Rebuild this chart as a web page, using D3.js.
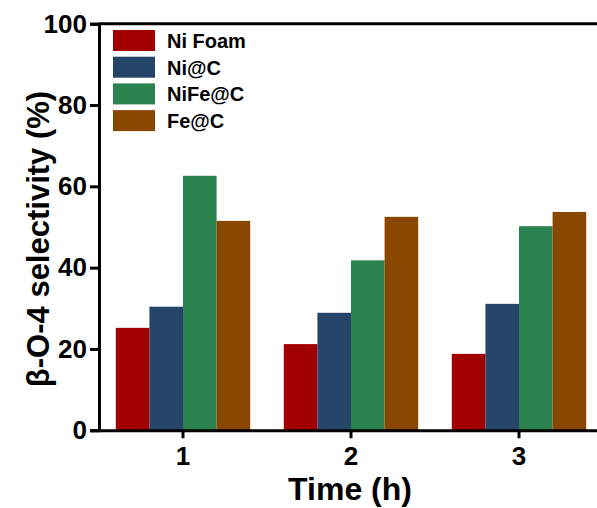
<!DOCTYPE html>
<html>
<head>
<meta charset="utf-8">
<script src="https://cdnjs.cloudflare.com/ajax/libs/d3/7.8.5/d3.min.js"></script>
<style>
  body { margin: 0; background: white; }
  text { font-family: Arial, "Liberation Sans", sans-serif; font-weight: bold; }
</style>
</head>
<body>
<div id="canvas"></div>
<script>
var w = 597;
var h = 508;

// data
var times = ["1", "2", "3"];
var seriesNames = ["Ni Foam", "Ni@C", "NiFe@C", "Fe@C"];
var niFoam = [25.2, 21.2, 18.8];
var niC = [30.4, 28.9, 31.1];
var nifeC = [62.6, 41.8, 50.2];
var feC = [51.5, 52.5, 53.7];
var yTicks = [0, 20, 40, 60, 80, 100];
var colors = ["#a20000", "#244567", "#2b834f", "#8a4700"];

var values = [niFoam, niC, nifeC, feC];

var plotLeft = 99, plotRight = 603, plotTop = 23.7, plotBottom = 430.3;

var svg = d3.select("#canvas").append("svg")
  .attr("width", w)
  .attr("height", h)
  .style("background-color", "white");

var xScale = d3.scaleBand()
  .domain(times)
  .range([plotLeft, plotRight])
  .paddingInner(0.2)
  .paddingOuter(0.1);

var xInner = d3.scaleBand()
  .domain(d3.range(seriesNames.length))
  .range([0, xScale.bandwidth()]);

var yScale = d3.scaleLinear()
  .domain([0, 100])
  .range([plotBottom, plotTop]);

// bars
var groups = svg.selectAll("g.group")
  .data(times)
  .join("g")
  .attr("class", "group")
  .attr("transform", function(d) {
    return "translate(" + xScale(d) + ",0)";
  });

groups.selectAll("rect")
  .data(function(d, i) {
    return values.map(function(s, j) { return {s: j, v: s[i]}; });
  })
  .join("rect")
  .attr("x", function(d) { return xInner(d.s); })
  .attr("y", function(d) { return yScale(d.v); })
  .attr("width", xInner.bandwidth())
  .attr("height", function(d) { return yScale(0) - yScale(d.v); })
  .attr("fill", function(d) { return colors[d.s]; });

// top frame line
svg.append("line")
  .attr("x1", plotLeft)
  .attr("x2", plotRight)
  .attr("y1", plotTop)
  .attr("y2", plotTop)
  .attr("stroke", "black")
  .attr("stroke-width", 3);

// y axis
var yAxis = svg.append("g")
  .attr("transform", "translate(" + plotLeft + ",0)")
  .call(d3.axisLeft(yScale).tickValues(yTicks).tickSize(9).tickPadding(3));
yAxis.select(".domain").attr("stroke-width", 3);
yAxis.selectAll(".tick line").attr("stroke-width", 3);
yAxis.selectAll(".tick text")
  .style("font-size", "26px")
  .attr("fill", "black");

// x axis
var xAxis = svg.append("g")
  .attr("transform", "translate(0," + plotBottom + ")")
  .call(d3.axisBottom(xScale).tickSize(8).tickPadding(8).tickSizeOuter(0));
xAxis.select(".domain").attr("stroke-width", 3);
xAxis.selectAll(".tick line").attr("stroke-width", 3);
xAxis.selectAll(".tick text")
  .style("font-size", "26px")
  .attr("fill", "black");

// axis titles
svg.append("text")
  .attr("x", 350)
  .attr("y", 500)
  .attr("text-anchor", "middle")
  .style("font-size", "32px")
  .text("Time (h)");

svg.append("text")
  .attr("transform", "translate(49," + ((plotTop + plotBottom) / 2 + 12) + ") rotate(-90)")
  .attr("text-anchor", "middle")
  .style("font-size", "31px")
  .text("β-O-4 selectivity (%)");

// legend
var legend = svg.selectAll("g.legend")
  .data(seriesNames)
  .join("g")
  .attr("class", "legend")
  .attr("transform", function(d, i) {
    return "translate(113," + (30 + i * 26.7) + ")";
  });

legend.append("rect")
  .attr("width", 42)
  .attr("height", 21)
  .attr("fill", function(d, i) { return colors[i]; });

legend.append("text")
  .attr("x", 54)
  .attr("y", 18)
  .style("font-size", "20px")
  .text(function(d) { return d; });
</script>
</body>
</html>
